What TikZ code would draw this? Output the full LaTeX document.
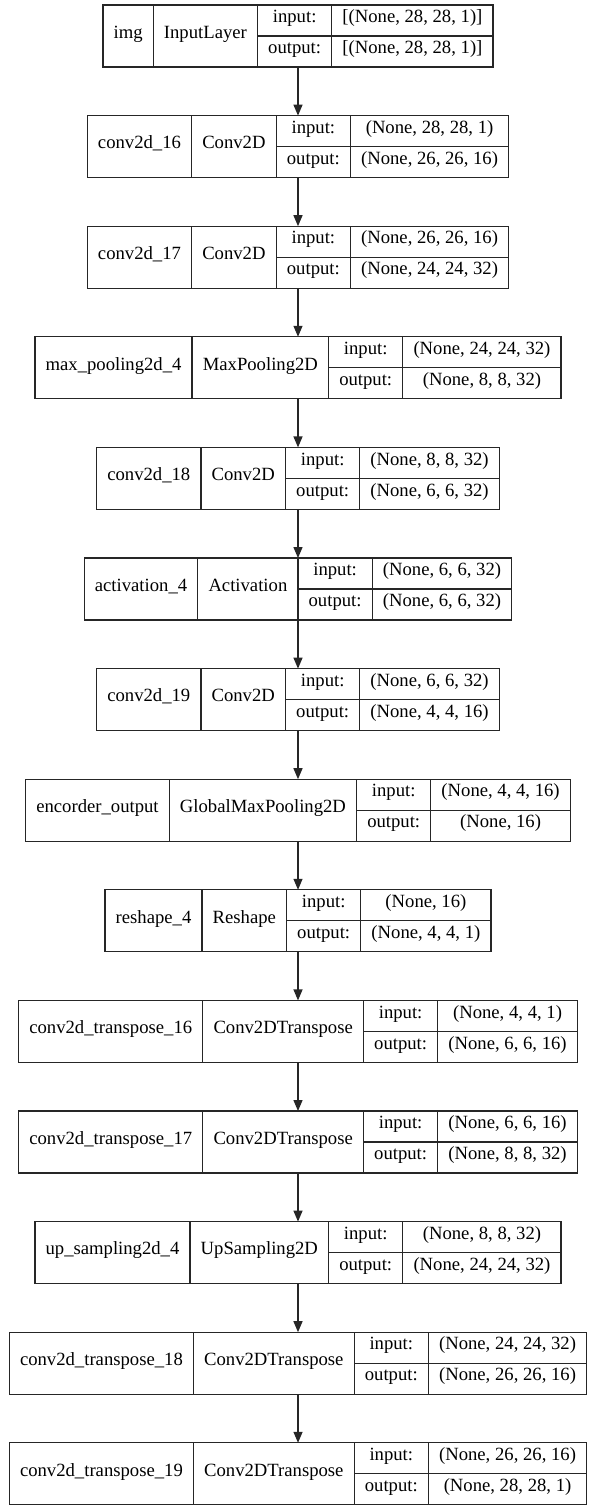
\documentclass[tikz,border=0pt]{standalone}
\usepackage{fontspec}
\setmainfont{Liberation Serif}
\newfontfamily\lfont{Liberation Serif}
\usetikzlibrary{arrows.meta}
\newcommand\fsz{\lfont\fontsize{18.67}{22}\selectfont}
\newlength\lmA \newlength\lmB \newlength\lmC \newlength\lmD \newlength\lmE
\tikzset{
  box/.style={draw=black!85, line width=1.3pt, inner sep=0pt, outer sep=0pt, minimum height=62pt, fill=white},
  cell/.style={draw=black!85, line width=1.3pt},
  txt/.style={inner sep=0pt, text height=0.66em, text depth=0.22em, font=\fsz},
  arr/.style={draw=black!85, line width=1.3pt, -{Triangle[length=11pt,width=9pt]}}
}
\newcommand\layer[6]{%
  \def\lT{#2}%
  \pgfinterruptpicture
    \settowidth\lmA{\fsz #3}\global\lmA=\lmA
    \settowidth\lmB{\fsz #4}\global\lmB=\lmB
    \settowidth\lmC{\fsz output:}\global\lmC=\lmC
    \settowidth\lmD{\fsz #5}\global\lmD=\lmD
    \settowidth\lmE{\fsz #6}\global\lmE=\lmE
  \endpgfinterruptpicture
  \pgfmathsetmacro\wA{\lmA+21.33}%
  \pgfmathsetmacro\wB{\lmB+21.33}%
  \pgfmathsetmacro\wC{\lmC+21.33}%
  \pgfmathsetmacro\wD{max(\lmD,\lmE)+21.33}%
  \pgfmathsetmacro\lW{\wA+\wB+\wC+\wD}%
  \pgfmathsetmacro\lA{298-\lW/2}%
  \pgfmathsetmacro\lB{\lA+\wA}%
  \pgfmathsetmacro\lC{\lB+\wB}%
  \pgfmathsetmacro\lD{\lC+\wC}%
  \pgfmathsetmacro\lE{\lD+\wD}%
  \node[box, minimum width=\lW pt, anchor=north west] (#1) at (\lA,\lT) {};
  \draw[cell] ({\lB},{\lT}) -- ++(0,62);
  \draw[cell] ({\lC},{\lT}) -- ++(0,62);
  \draw[cell] ({\lD},{\lT}) -- ++(0,62);
  \draw[cell] ({\lC},{\lT+31}) -- ({\lE},{\lT+31});
  \node[txt] (#1-name) at ({(\lA+\lB)/2},{\lT+31}) {#3};
  \node[txt] (#1-type) at ({(\lB+\lC)/2},{\lT+31}) {#4};
  \node[txt] (#1-inl) at ({(\lC+\lD)/2},{\lT+15.5}) {input:};
  \node[txt] (#1-outl) at ({(\lC+\lD)/2},{\lT+46.5}) {output:};
  \node[txt] (#1-inv) at ({(\lD+\lE)/2},{\lT+15.5}) {#5};
  \node[txt] (#1-outv) at ({(\lD+\lE)/2},{\lT+46.5}) {#6};
}
\begin{document}
\begin{tikzpicture}[x=1pt,y=-1pt]
\useasboundingbox (0,0) rectangle (596,1512);
\layer{b1}{5}{img}{InputLayer}{[(None, 28, 28, 1)]}{[(None, 28, 28, 1)]}
\layer{b2}{115.6}{conv2d\_16}{Conv2D}{(None, 28, 28, 1)}{(None, 26, 26, 16)}
\layer{b3}{226.2}{conv2d\_17}{Conv2D}{(None, 26, 26, 16)}{(None, 24, 24, 32)}
\layer{b4}{336.8}{max\_pooling2d\_4}{MaxPooling2D}{(None, 24, 24, 32)}{(None, 8, 8, 32)}
\layer{b5}{447.4}{conv2d\_18}{Conv2D}{(None, 8, 8, 32)}{(None, 6, 6, 32)}
\layer{b6}{558}{activation\_4}{Activation}{(None, 6, 6, 32)}{(None, 6, 6, 32)}
\layer{b7}{668.6}{conv2d\_19}{Conv2D}{(None, 6, 6, 32)}{(None, 4, 4, 16)}
\layer{b8}{779.2}{encorder\_output}{GlobalMaxPooling2D}{(None, 4, 4, 16)}{(None, 16)}
\layer{b9}{889.8}{reshape\_4}{Reshape}{(None, 16)}{(None, 4, 4, 1)}
\layer{b10}{1000.4}{conv2d\_transpose\_16}{Conv2DTranspose}{(None, 4, 4, 1)}{(None, 6, 6, 16)}
\layer{b11}{1111}{conv2d\_transpose\_17}{Conv2DTranspose}{(None, 6, 6, 16)}{(None, 8, 8, 32)}
\layer{b12}{1221.6}{up\_sampling2d\_4}{UpSampling2D}{(None, 8, 8, 32)}{(None, 24, 24, 32)}
\layer{b13}{1332.2}{conv2d\_transpose\_18}{Conv2DTranspose}{(None, 24, 24, 32)}{(None, 26, 26, 16)}
\layer{b14}{1442.8}{conv2d\_transpose\_19}{Conv2DTranspose}{(None, 26, 26, 16)}{(None, 28, 28, 1)}
\foreach \a/\b in {b1/b2,b2/b3,b3/b4,b4/b5,b5/b6,b6/b7,b7/b8,b8/b9,b9/b10,b10/b11,b11/b12,b12/b13,b13/b14}
  \draw[arr] (\a.south) -- (\b.north);
\end{tikzpicture}
\end{document}
